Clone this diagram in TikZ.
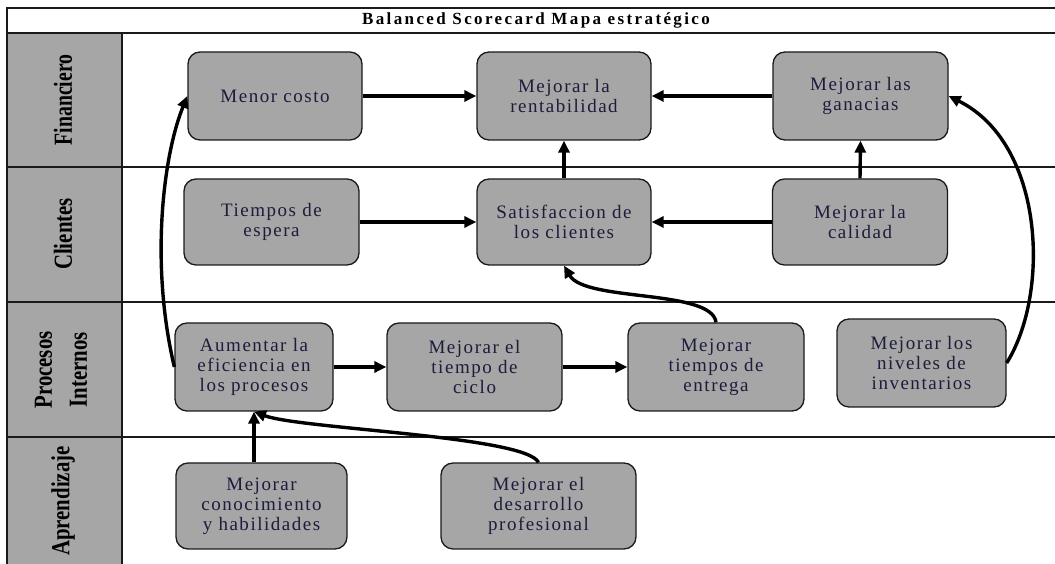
\documentclass[tikz,border=0pt]{standalone}
\usepackage{fontspec}
\setmainfont{Liberation Serif}
\usetikzlibrary{arrows.meta}
\definecolor{boxgray}{HTML}{A6A6A6}
\definecolor{txt}{HTML}{1C1C3C}
\definecolor{framec}{HTML}{1A1A1A}
\begin{document}
\begin{tikzpicture}[x=1pt,y=1pt,
  kbox/.style={draw=framec, line width=1.3pt, fill=boxgray, rounded corners=12pt,
    align=center, text=txt, font=\fontsize{19}{20}\selectfont\addfontfeature{LetterSpace=8}, inner sep=0pt},
  conn/.style={line width=3.4pt, draw=black, -{Triangle[length=12pt,width=11pt]}},
  rowlab/.style={font=\fontsize{26}{35}\selectfont\bfseries, rotate=90, align=center, text=black},
  gridline/.style={draw=framec, line width=1.5pt}]

\useasboundingbox (0,0) rectangle (1055,564);

% table frame
\fill[boxgray] (7,-3) rectangle (122,531);
\draw[gridline, line width=2pt] (6,556) -- (1060,556);
\draw[gridline] (7,531) -- (1060,531);
\draw[gridline] (7,397) -- (1060,397);
\draw[gridline] (7,262) -- (1060,262);
\draw[gridline] (7,127) -- (1060,127);
\draw[gridline] (7,-3) -- (7,556);
\draw[gridline] (122,-3) -- (122,531);

% title
\node (title) at (536,543.5) {\fontsize{17}{18}\selectfont\bfseries\addfontfeature{LetterSpace=14}Balanced Scorecard Mapa estratégico};

% row labels
\node[rowlab] (lfin) at (63,464) {\scalebox{0.76}[1]{Financiero}};
\node[rowlab] (lcli) at (63,330) {\scalebox{0.8}[1]{Clientes}};
\node[rowlab] (lpro) at (61,194) {\scalebox{0.8}[1]{Procesos}\\\scalebox{0.8}[1]{Internos}};
\node[rowlab] (lapr) at (63,63) {\scalebox{0.8}[1]{Aprendizaje}};

% boxes
\node[kbox, minimum width=174pt, minimum height=88pt] (mc)   at (275,468)   {Menor costo};
\node[kbox, minimum width=174pt, minimum height=88pt] (rent) at (564,468)   {Mejorar la\\rentabilidad};
\node[kbox, minimum width=175pt, minimum height=88pt] (gan)  at (860.5,468) {Mejorar las\\ganacias};
\node[kbox, minimum width=175pt, minimum height=86pt] (tie)  at (271.5,342) {Tiempos de\\espera};
\node[kbox, minimum width=174pt, minimum height=86pt] (sat)  at (564,342)   {Satisfaccion de\\los clientes};
\node[kbox, minimum width=175pt, minimum height=86pt] (cal)  at (860,342)   {Mejorar la\\calidad};
\node[kbox, minimum width=158pt, minimum height=88pt] (aum)  at (254,197)   {Aumentar la\\eficiencia en\\los procesos};
\node[kbox, minimum width=175pt, minimum height=88pt] (cic)  at (474.5,197) {Mejorar el\\tiempo de\\ciclo};
\node[kbox, minimum width=176pt, minimum height=88pt] (ent)  at (716,197)   {Mejorar\\tiempos de\\entrega};
\node[kbox, minimum width=169pt, minimum height=88pt] (inv)  at (921.5,201) {Mejorar los\\niveles de\\inventarios};
\node[kbox, minimum width=171pt, minimum height=86pt] (con)  at (261.5,58)  {Mejorar\\conocimiento\\y habilidades};
\node[kbox, minimum width=195pt, minimum height=86pt] (des)  at (538.5,58)  {Mejorar el\\desarrollo\\profesional};

% straight connectors
\draw[conn] (mc.east) -- (rent.west);
\draw[conn] (gan.west) -- (rent.east);
\draw[conn] (sat.north) -- (rent.south);
\draw[conn] (cal.north) -- (gan.south);
\draw[conn] (tie.east) -- (sat.west);
\draw[conn] (cal.west) -- (sat.east);
\draw[conn] (aum.east) -- (cic.west);
\draw[conn] (cic.east) -- (ent.west);
\draw[conn] (con.north -| aum.south) -- (aum.south);

% curved connectors
\draw[conn] (aum.west) .. controls (150,300) and (163,408) .. (mc.west);
\draw[conn] (ent.north) .. controls (712,275) and (585,262) .. (sat.south);
\draw[conn] (des.north) .. controls (525,128) and (300,135) .. (aum.south);
\draw[conn] (inv.east) .. controls (1050,270) and (1045,420) .. (gan.east);
\end{tikzpicture}
\end{document}
